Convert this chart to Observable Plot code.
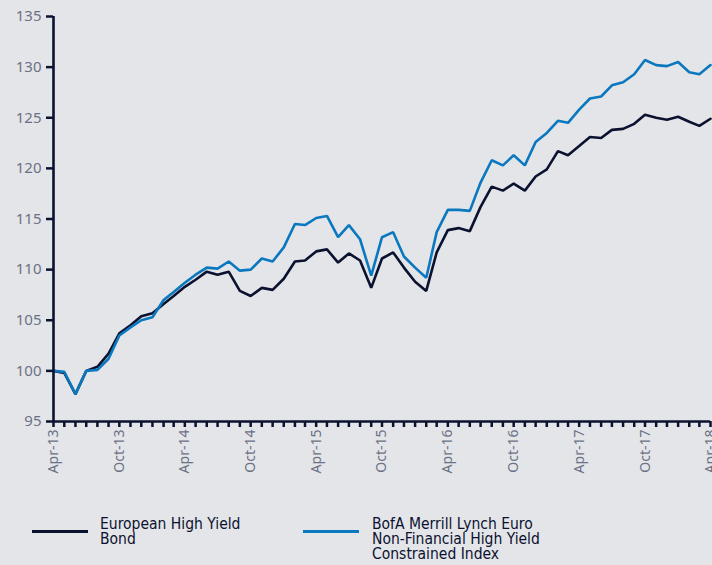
<!DOCTYPE html>
<html>
<head>
<meta charset="utf-8">
<script src="https://cdn.jsdelivr.net/npm/d3@7"></script>
<script src="https://cdn.jsdelivr.net/npm/@observablehq/plot@0.6"></script>
<style>
  html, body { margin: 0; padding: 0; background: #e4e5e9; }
  #wrap { position: relative; width: 712px; height: 565px; overflow: hidden; background: #e4e5e9; }
  #chart { position: absolute; left: 0; top: 0; }
  .leg { position: absolute; font-family: "Liberation Sans Narrow", "DejaVu Sans Condensed", sans-serif; font-size: 15.5px; line-height: 15px; color: #0b1230; }
  .sw { position: absolute; height: 3px; }
</style>
</head>
<body>
<div id="wrap">
  <div id="chart"></div>
</div>
<script>
// Monthly index levels, Apr-13 .. Apr-18 (rebased to 100)
const startMonth = new Date(Date.UTC(2013, 3, 1));
const endMonth = new Date(Date.UTC(2018, 3, 1));
const months = d3.utcMonth.range(startMonth, d3.utcMonth.offset(endMonth, 1));

const seriesNames = ["European High Yield Bond", "BofA Merrill Lynch Euro Non-Financial High Yield Constrained Index"];
const legendLines = [["European High Yield", "Bond"], ["BofA Merrill Lynch Euro", "Non-Financial High Yield", "Constrained Index"]];
const seriesColors = ["#0b1230", "#0a78bf"];

const europeanHY = [
  100.0, 99.8, 97.7, 100.0, 100.4, 101.7, 103.7, 104.5, 105.4, 105.7, 106.6, 107.4,
  108.3, 109.0, 109.8, 109.5, 109.8, 107.9, 107.4, 108.2, 108.0, 109.1,
  110.8, 110.9, 111.8, 112.0, 110.7, 111.6, 110.9, 108.2, 111.1, 111.7,
  110.2, 108.8, 107.9, 111.7, 113.9, 114.1, 113.8, 116.2, 118.2, 117.8,
  118.5, 117.8, 119.2, 119.9, 121.7, 121.3, 122.2, 123.1, 123.0, 123.8,
  123.9, 124.4, 125.3, 125.0, 124.8, 125.1, 124.6, 124.2, 124.9
];
const bofaML = [
  100.0, 99.9, 97.7, 100.0, 100.1, 101.2, 103.5, 104.3, 105.0, 105.3, 107.0, 107.8,
  108.7, 109.5, 110.2, 110.1, 110.8, 109.9, 110.0, 111.1, 110.8, 112.2,
  114.5, 114.4, 115.1, 115.3, 113.2, 114.4, 113.0, 109.4, 113.2, 113.7,
  111.3, 110.2, 109.2, 113.7, 115.9, 115.9, 115.8, 118.6, 120.8, 120.3,
  121.3, 120.3, 122.6, 123.5, 124.7, 124.5, 125.8, 126.9, 127.1, 128.2,
  128.5, 129.3, 130.7, 130.2, 130.1, 130.5, 129.5, 129.3, 130.2
];

const yTicks = [95, 100, 105, 110, 115, 120, 125, 130, 135];
const xLabelTicks = ["Apr-13","Oct-13","Apr-14","Oct-14","Apr-15","Oct-15","Apr-16","Oct-16","Apr-17","Oct-17","Apr-18"];

const parseLbl = d3.utcParse("%b-%y");
const xLabelDates = xLabelTicks.map(parseLbl);

const data = [];
months.forEach((m, i) => {
  data.push({date: m, value: europeanHY[i], series: seriesNames[0]});
  data.push({date: m, value: bofaML[i], series: seriesNames[1]});
});

const axisColor = "#0b1230";
const labelColor = "#6b7184";

const chart = Plot.plot({
  width: 712,
  height: 490,
  marginLeft: 53,
  marginRight: 2,
  marginTop: 16,
  marginBottom: 69,
  style: {background: "transparent", fontFamily: "'Noto Sans', 'Open Sans', sans-serif"},
  x: {type: "utc", domain: [startMonth, endMonth]},
  y: {domain: [95, 135]},
  color: {domain: seriesNames, range: seriesColors},
  marks: [
    Plot.line(data, {x: "date", y: "value", z: "series", stroke: "series", strokeWidth: 2.6, strokeLinejoin: "miter"}),
    Plot.axisY({ticks: yTicks, tickSize: 7, tickPadding: 5, stroke: axisColor, strokeWidth: 2.5, fill: labelColor, fontSize: 15, label: null, tickFormat: d => String(d)}),
    Plot.axisX({ticks: months, tickSize: 6, stroke: axisColor, strokeWidth: 2.5, text: null, label: null}),
    Plot.axisX({ticks: xLabelDates, tickSize: 0, tickPadding: 8, tickRotate: -90, fill: labelColor, fontSize: 14, label: null, tickFormat: d3.utcFormat("%b-%y")}),
    Plot.ruleX([startMonth], {stroke: axisColor, strokeWidth: 2.6}),
    Plot.ruleY([95], {stroke: axisColor, strokeWidth: 2.6})
  ]
});
document.getElementById("chart").appendChild(chart);

// Legend below the plot
const wrap = document.getElementById("wrap");
const legendPos = [{sx: 32, tx: 100}, {sx: 303, tx: 372}];
seriesNames.forEach((name, i) => {
  const sw = document.createElement("div");
  sw.className = "sw";
  sw.style.left = legendPos[i].sx + "px";
  sw.style.top = "530px";
  sw.style.width = "56px";
  sw.style.background = seriesColors[i];
  wrap.appendChild(sw);
  const t = document.createElement("div");
  t.className = "leg";
  t.style.left = legendPos[i].tx + "px";
  t.style.top = "517px";
  t.innerHTML = legendLines[i].join("<br>");
  wrap.appendChild(t);
});
</script>
</body>
</html>
